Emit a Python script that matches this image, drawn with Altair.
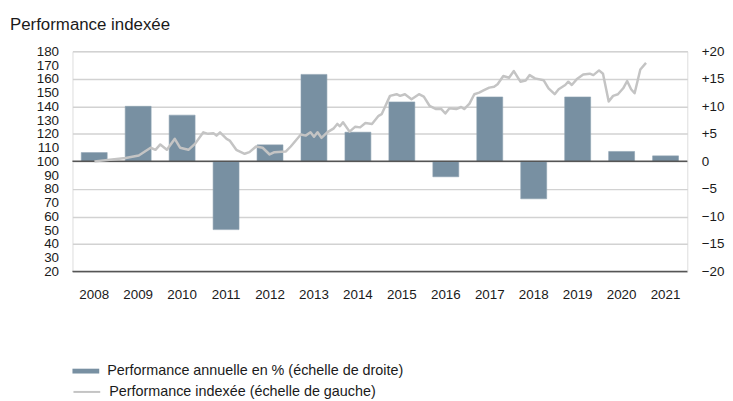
import altair as alt
import pandas as pd

# ---- data ----
years = [str(y) for y in range(2008, 2022)]
annual = [1.6, 10.0, 8.4, -12.4, 3.0, 15.8, 5.3, 10.8, -2.8, 11.7, -6.8, 11.7, 1.8, 1.0]

line_t = [2008.50, 2008.85, 2009.21, 2009.51, 2009.78, 2009.89, 2010.00, 2010.15, 2010.33, 2010.45,
          2010.64, 2010.79, 2010.98, 2011.09, 2011.21, 2011.28, 2011.36, 2011.51, 2011.58, 2011.73,
          2011.92, 2012.03, 2012.18, 2012.33, 2012.49, 2012.60, 2012.86, 2012.97, 2013.20, 2013.31,
          2013.42, 2013.50, 2013.58, 2013.67, 2013.80, 2013.95, 2014.03, 2014.09, 2014.16, 2014.31,
          2014.44, 2014.55, 2014.67, 2014.82, 2014.97, 2015.04, 2015.23, 2015.38, 2015.46, 2015.57,
          2015.72, 2015.89, 2016.00, 2016.13, 2016.28, 2016.40, 2016.49, 2016.58, 2016.74, 2016.85,
          2016.92, 2017.04, 2017.15, 2017.26, 2017.37, 2017.49, 2017.60, 2017.68, 2017.81, 2017.94,
          2018.05, 2018.20, 2018.32, 2018.41, 2018.53, 2018.73, 2018.84, 2018.98, 2019.07, 2019.22,
          2019.29, 2019.37, 2019.48, 2019.63, 2019.78, 2019.86, 2019.99, 2020.08, 2020.21, 2020.31,
          2020.42, 2020.54, 2020.63, 2020.72, 2020.80, 2020.93, 2021.06]
line_v = [100.0, 101.2, 102.4, 104.3, 109.9, 108.4, 112.3, 108.4, 116.4, 109.9,
          108.4, 112.7, 121.1, 120.0, 120.5, 118.7, 121.1, 116.3, 115.1, 108.4,
          105.5, 106.7, 110.8, 109.9, 105.0, 106.7, 107.2, 110.8, 119.5, 118.7,
          121.1, 117.9, 121.1, 117.1, 121.1, 124.0, 127.2, 125.5, 128.4, 121.6,
          125.2, 124.7, 127.9, 127.2, 133.1, 134.3, 147.6, 148.8, 147.6, 148.8,
          145.2, 148.8, 147.0, 140.4, 138.0, 138.0, 134.8, 138.5, 138.0, 139.5,
          138.0, 142.0, 148.8, 150.0, 151.7, 153.6, 154.2, 156.0, 162.0, 160.8,
          165.6, 157.9, 158.8, 162.7, 160.3, 158.9, 153.1, 148.8, 152.4, 155.5,
          157.9, 155.5, 159.6, 163.2, 163.7, 162.7, 166.1, 163.7, 143.5, 147.6,
          148.8, 153.1, 158.4, 152.4, 149.5, 166.8, 171.6]

left_ticks = list(range(20, 181, 10))
right_ticks = list(range(-20, 21, 5))
base_rules = [0, -20]

bar_label = "Performance annuelle en % (échelle de droite)"
line_label = "Performance indexée (échelle de gauche)"
title_text = "Performance indexée"

# ---- styles ----
FONT = "Liberation Sans, Arial, sans-serif"
BAR_COLOR = "#7890a2"
LINE_COLOR = "#c4c4c4"
GRID_COLOR = "#d2d2d2"
DARK = "#555555"
TXT = "#1a1a1a"
TICK_FS = 13.5
LEG_FS = 14.5

bars_df = pd.DataFrame({"year": years, "value": annual, "serie": bar_label})
line_df = pd.DataFrame({"t": line_t, "v": line_v, "serie": line_label})
rules_df = pd.DataFrame({"y": base_rules})

y_right = alt.Scale(domain=[-20, 20], nice=False, zero=False)
right_axis = alt.Axis(orient="right", title=None, values=right_ticks, grid=True,
                      gridColor=GRID_COLOR, gridWidth=1.5, ticks=False, domain=False,
                      labelPadding=14, labelAlign="left", labelFontSize=TICK_FS, labelFont=FONT,
                      labelColor=TXT,
                      labelExpr="datum.value > 0 ? '+' + datum.label : datum.label")

bars = alt.Chart(bars_df).mark_bar(color=BAR_COLOR, stroke="#8ea2b2", strokeWidth=0.6).encode(
    x=alt.X("year:O", sort=years,
            scale=alt.Scale(paddingInner=0.41, paddingOuter=0.2),
            axis=alt.Axis(title=None, labelAngle=0, ticks=False, domain=False,
                          labelPadding=16, labelFontSize=TICK_FS, labelFont=FONT, labelColor=TXT)),
    y=alt.Y("value:Q", scale=y_right, axis=right_axis),
    color=alt.Color("serie:N", scale=alt.Scale(domain=[bar_label], range=[BAR_COLOR]),
                    legend=alt.Legend(title=None, orient="none", legendX=0, legendY=309,
                                      symbolType="M-1,-0.18H1V0.18H-1Z", symbolSize=729,
                                      symbolStrokeWidth=0, labelFontSize=LEG_FS, labelFont=FONT,
                                      labelColor=TXT, labelOffset=8, padding=0, labelLimit=0)),
)

rules = alt.Chart(rules_df).mark_rule(color=DARK, strokeWidth=1.5).encode(
    y=alt.Y("y:Q", scale=y_right, axis=right_axis)
)

line = alt.Chart(line_df).mark_line(strokeWidth=2.5, strokeJoin="round").encode(
    x=alt.X("t:Q", scale=alt.Scale(domain=[2008, 2022], nice=False, zero=False), axis=None),
    y=alt.Y("v:Q", scale=alt.Scale(domain=[20, 180], nice=False, zero=False),
            axis=alt.Axis(orient="left", title=None, values=left_ticks, grid=False,
                          ticks=False, domain=False, labelPadding=14, labelFontSize=TICK_FS,
                          labelFont=FONT, labelColor=TXT)),
    stroke=alt.Stroke("serie:N", scale=alt.Scale(domain=[line_label], range=[LINE_COLOR]),
                      legend=alt.Legend(title=None, orient="none", legendX=0, legendY=329,
                                        symbolType="stroke", symbolSize=729,
                                        symbolStrokeWidth=2, labelFontSize=LEG_FS, labelFont=FONT,
                                        labelColor=TXT, labelOffset=8, padding=0, labelLimit=0)),
)

chart = alt.layer(alt.layer(bars, rules), line).resolve_scale(
    x="independent", y="independent"
).properties(
    width=620, height=222,
    title=alt.TitleParams(title_text, anchor="start", frame="group", dx=-63, offset=-3,
                          baseline="alphabetic", fontSize=17, font=FONT, fontWeight="normal",
                          color=TXT),
    autosize=alt.AutoSizeParams(type="none"),
    padding={"left": 65, "top": 42, "right": 38, "bottom": 129},
).configure_view(strokeWidth=0).configure(background="white")

chart.save("out.html", embed_options={"renderer": "svg", "actions": False})
